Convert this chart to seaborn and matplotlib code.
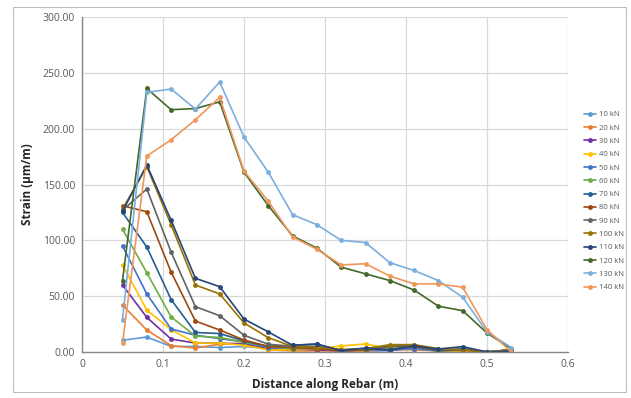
import matplotlib
matplotlib.use("Agg")
import matplotlib.pyplot as plt
import seaborn as sns
import pandas as pd
import numpy as np
from matplotlib.patches import Rectangle
from matplotlib.ticker import FormatStrFormatter, MultipleLocator

distance = [0.05, 0.08, 0.11, 0.14, 0.17, 0.20, 0.23, 0.26, 0.29, 0.32, 0.35, 0.38, 0.41, 0.44, 0.47, 0.50, 0.53]
loads = ["10 kN", "20 kN", "30 kN", "40 kN", "50 kN", "60 kN", "70 kN",
         "80 kN", "90 kN", "100 kN", "110 kN", "120 kN", "130 kN", "140 kN"]

s10 = [10.5, 13.4, 5, 5, 4, 5, 3, 2, 2, 1, 1, 1, 4, 1, 1, 0, 1]
s20 = [42, 19.7, 5.7, 3.5, 7, 8, 2, 1, 1, 1, 1, 2, 2, 1, 1, 0, 0]
s30 = [60, 31, 11.6, 8, 8, 7, 3, 3, 2, 1, 2, 2, 3, 1, 1, 0, 1]
s40 = [78, 37.6, 20, 8, 8, 6, 2, 2, 3, 5.4, 7.2, 3, 3, 1, 1, 0, 1]
s50 = [95, 52, 20.6, 15, 12, 9, 4, 3, 3, 1, 2, 2, 3, 1, 2, 0, 1]
s60 = [110, 71, 31.4, 14.3, 13, 9, 5, 3, 4, 2, 2, 3, 5, 1, 2, 0, 2]
s70 = [125, 94, 47, 17.5, 16.5, 10, 5, 6, 7, 1, 3, 2, 5, 1, 3, 0, 1]
s80 = [131, 125.6, 71.6, 27.7, 19.7, 10.7, 5, 4, 3, 1, 2, 5, 5, 2, 2, 0, 2]
s90 = [127, 146, 89.5, 40.6, 32.5, 15, 7, 5, 5, 2, 3, 5, 6, 2, 2, 0, 2]
s100 = [128, 166, 114, 60, 52, 26, 12.8, 5, 4, 2, 3, 6.6, 6.6, 3, 2, 0, 2]
s110 = [126, 167.5, 118, 66, 58.5, 29.5, 18, 6, 7.2, 1.2, 3.6, 1.8, 5.4, 2.7, 4.8, 0, 1]
s120 = [64, 236, 217, 218, 224, 161, 131, 104, 93, 76, 70, 64, 55.5, 41, 37, 17, 3]
s130 = [29, 232.5, 235.5, 217.6, 241.8, 192.5, 161, 123, 114, 100, 98, 80, 73, 64, 49, 18, 4]
s140 = [8, 175.5, 190, 208, 228, 162, 135, 103, 92, 78, 79, 68, 61, 61, 58, 20, 0]

series = [s10, s20, s30, s40, s50, s60, s70, s80, s90, s100, s110, s120, s130, s140]
colors = ["#5B9BD5", "#ED7D31", "#7030A0", "#FFC000", "#4472C4", "#70AD47", "#255E91",
          "#9E480E", "#636363", "#997300", "#264478", "#43682B", "#7CAFDD", "#F1975A"]

df = pd.concat([pd.DataFrame({"Distance": distance, "Strain": s, "Load": name})
                for name, s in zip(loads, series)], ignore_index=True)

sns.set_theme(style="white")
plt.rcParams['font.family'] = ['Open Sans', 'DejaVu Sans']

fig = plt.figure(figsize=(6.31, 3.98), dpi=100)
ax = fig.add_axes([82/631, 1 - 352/398, (568-82)/631, (352-17)/398])

sns.lineplot(data=df, x="Distance", y="Strain", hue="Load", hue_order=loads,
             palette=colors, marker="o", markersize=3.5, markeredgewidth=0,
             linewidth=1.2, ax=ax, sort=False)

ax.set_xlim(0, 0.6)
ax.set_ylim(0, 300)
ax.yaxis.set_major_locator(MultipleLocator(50))
ax.yaxis.set_major_formatter(FormatStrFormatter("%.2f"))
ax.set_xticks([0, 0.1, 0.2, 0.3, 0.4, 0.5, 0.6])
ax.set_xticklabels(["0", "0.1", "0.2", "0.3", "0.4", "0.5", "0.6"])
ax.grid(True, color="#D9D9D9", linewidth=0.9)
ax.set_axisbelow(True)
for side in ["top", "right"]:
    ax.spines[side].set_visible(False)
for side in ["left", "bottom"]:
    ax.spines[side].set_color("#868686")
    ax.spines[side].set_linewidth(1.0)
ax.tick_params(axis="both", labelsize=7.5, colors="#595959", length=0, pad=5)
ax.set_xlabel("Distance along Rebar (m)", fontsize=8.5, fontweight="bold", color="#262626", labelpad=6)
ax.set_ylabel("Strain (µm/m)", fontsize=8.5, fontweight="bold", color="#262626", labelpad=6)

handles, labels = ax.get_legend_handles_labels()
leg = ax.legend(handles, labels, loc="upper left", bbox_to_anchor=(584/631, 1 - 111/398),
                bbox_transform=fig.transFigure, frameon=False, fontsize=5.5,
                handlelength=1.6, handletextpad=0.35, labelspacing=0.78, borderaxespad=0,
                borderpad=0)
for t in leg.get_texts():
    t.set_color("#595959")

fig.patches.append(Rectangle((13/631, 1 - 392/398), (626-13)/631, (392-7)/398,
                             transform=fig.transFigure, fill=False,
                             edgecolor="#BFBFBF", linewidth=0.8))

fig.savefig("out.png", dpi=100)
